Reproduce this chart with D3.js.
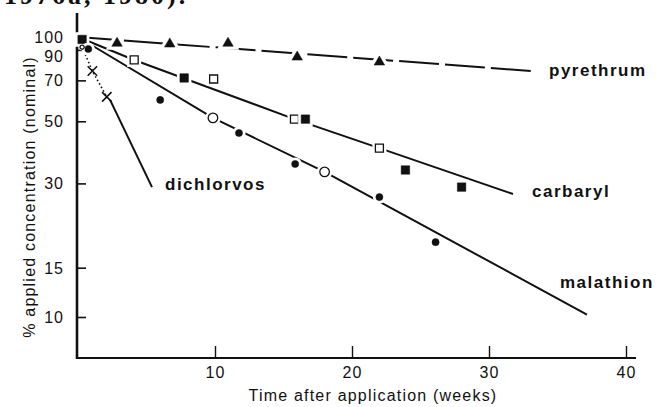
<!DOCTYPE html>
<html><head><meta charset="utf-8">
<script src="https://cdn.jsdelivr.net/npm/d3@7"></script>
<style>
body{margin:0;background:#fff}
svg{display:block}
text{fill:#111}
</style>
</head><body>
<svg id="chart" width="656" height="407"></svg>
<script>
// Persistence of stored-grain insecticides: % of nominal applied concentration
// remaining against weeks after application (log scale).
const yTickValues = [10, 15, 30, 50, 70, 90, 100];
const xTickValues = [10, 20, 30, 40];

const pyrethrumPts   = [[2.85, 95.0], [6.7, 94.4], [10.95, 95.0], [16.0, 84.8], [22.0, 81.4]];
const pyrethrumLine  = [[0, 100], [33.1, 75.6]];

const carbarylOpen   = [[4.1, 82.8], [9.9, 70.8], [15.8, 50.9], [22.0, 40.1]];
const carbarylFilled = [[0.3, 98], [7.75, 71.4], [16.6, 50.9], [23.9, 33.5], [28.0, 29.1]];
const carbarylLine   = [[0, 100], [4.1, 82.8], [15.8, 50.9], [22.0, 40.1], [31.75, 27.5]];

const malathionFilled = [[0.75, 90.6], [6.0, 59.6], [11.75, 45.4], [15.85, 35.2], [22.0, 26.8], [26.1, 18.5]];
const malathionOpen   = [[9.85, 51.4], [18.0, 33.0]];
const malathionLine   = [[0, 100], [9.85, 51.4], [18.0, 33.0], [37.15, 10.2]];

const dichlorvosStart  = [[0.3, 92]];
const dichlorvosPts    = [[1.05, 75.6], [2.1, 61.1]];
const dichlorvosDotted = [[0.3, 92], [1.05, 75.6], [2.1, 61.1]];
const dichlorvosLine   = [[2.34, 59.6], [5.4, 29.1]];

const svg = d3.select("#chart");
const FONT = "'Liberation Sans', Arial, Helvetica, sans-serif";
const INK = "#111";

const x = d3.scaleLinear().domain([0, 40]).range([78, 626]);
const y = d3.scaleLog().domain([10, 100]).range([317, 37]);

// cut-off line of running text above the figure
svg.append("text")
  .attr("x", 4).attr("y", 4)
  .attr("font-family", "'Liberation Serif', 'DejaVu Serif', serif")
  .attr("font-weight", "bold")
  .attr("font-size", 26)
  .attr("letter-spacing", 3)
  .text("1976a, 1980).");

// axes
const yAxis = d3.axisLeft(y)
  .tickValues(yTickValues)
  .tickFormat(d3.format("d"))
  .tickSizeInner(-9).tickSizeOuter(0).tickPadding(13);
const gy = svg.append("g").attr("transform", "translate(77,0)").call(yAxis);
gy.select(".domain").remove();
gy.selectAll(".tick line").attr("stroke", INK).attr("stroke-width", 1.6);
gy.selectAll(".tick text")
  .attr("font-family", FONT).attr("font-size", 16).attr("letter-spacing", 1)
  .attr("fill", INK)
  .attr("dy", d => d === 90 ? "0.72em" : "0.34em");

const xAxis = d3.axisBottom(x)
  .tickValues(xTickValues)
  .tickSizeInner(-12).tickSizeOuter(0).tickPadding(9);
const gx = svg.append("g").attr("transform", "translate(0,358)").call(xAxis);
gx.select(".domain").remove();
gx.selectAll(".tick line").attr("stroke", INK).attr("stroke-width", 1.4);
gx.selectAll(".tick text")
  .attr("font-family", FONT).attr("font-size", 16).attr("letter-spacing", 1)
  .attr("fill", INK);

svg.append("line").attr("x1", 77).attr("x2", 77).attr("y1", 13).attr("y2", 359)
  .attr("stroke", INK).attr("stroke-width", 2.6);
svg.append("line").attr("x1", 76).attr("x2", 636).attr("y1", 358).attr("y2", 358)
  .attr("stroke", INK).attr("stroke-width", 2);

// axis titles
svg.append("text")
  .attr("transform", "translate(35,197) rotate(-90)")
  .attr("text-anchor", "middle")
  .attr("font-family", FONT).attr("font-size", 16).attr("letter-spacing", 1.2)
  .text("% applied concentration (nominal)");
svg.append("text")
  .attr("x", 373).attr("y", 401)
  .attr("text-anchor", "middle")
  .attr("font-family", FONT).attr("font-size", 16).attr("letter-spacing", 1.2)
  .text("Time after application (weeks)");

// fitted lines
const line = d3.line().x(d => x(d[0])).y(d => y(d[1]));
const lines = svg.append("g").attr("fill", "none").attr("stroke", INK);
lines.append("path").datum(pyrethrumLine).attr("d", line)
  .attr("stroke-width", 2).attr("stroke-dasharray", "40,6");
lines.append("path").datum(carbarylLine).attr("d", line).attr("stroke-width", 2);
lines.append("path").datum(malathionLine).attr("d", line).attr("stroke-width", 2);
lines.append("path").datum(dichlorvosDotted).attr("d", line)
  .attr("stroke-width", 1.6).attr("stroke-dasharray", "1.5,2.5");
lines.append("path").datum(dichlorvosLine).attr("d", line).attr("stroke-width", 2);

// markers, each over a white halo so the lines break around it
function markers(data, sym, size, filled, haloW) {
  const g = svg.append("g");
  const path = d3.symbol().type(sym).size(size);
  g.selectAll("path.halo").data(data).join("path")
    .attr("class", "halo")
    .attr("transform", d => `translate(${x(d[0])},${y(d[1])})`)
    .attr("d", path).attr("fill", "#fff").attr("stroke", "#fff").attr("stroke-width", haloW);
  g.selectAll("path.mark").data(data).join("path")
    .attr("class", "mark")
    .attr("transform", d => `translate(${x(d[0])},${y(d[1])})`)
    .attr("d", path)
    .attr("fill", filled ? INK : "#fff")
    .attr("stroke", INK).attr("stroke-width", filled ? 0.5 : 1.3);
}
markers(pyrethrumPts, d3.symbolTriangle, 48, true, 7);
markers(carbarylOpen, d3.symbolSquare, 64, false, 6);
markers(carbarylFilled, d3.symbolSquare, 72, true, 6);
markers(malathionFilled, d3.symbolCircle, 40, true, 6);
markers(malathionOpen, d3.symbolCircle, 72, false, 6);
markers(dichlorvosStart, d3.symbolCircle, 14, false, 2);

const crossG = svg.append("g");
crossG.selectAll("path").data(dichlorvosPts).join("path")
  .attr("transform", d => `translate(${x(d[0])},${y(d[1])})`)
  .attr("d", d3.symbol().type(d3.symbolX).size(60))
  .attr("fill", "none").attr("stroke", INK).attr("stroke-width", 1.6);

// series names
const names = [
  {t: "pyrethrum", x: 549, y: 76},
  {t: "carbaryl", x: 532, y: 197},
  {t: "malathion", x: 560, y: 288},
  {t: "dichlorvos", x: 165, y: 190}
];
svg.append("g").selectAll("text").data(names).join("text")
  .attr("x", d => d.x).attr("y", d => d.y)
  .attr("font-family", FONT).attr("font-weight", "bold")
  .attr("font-size", 17).attr("letter-spacing", 1.5)
  .text(d => d.t);
</script>
</body></html>
